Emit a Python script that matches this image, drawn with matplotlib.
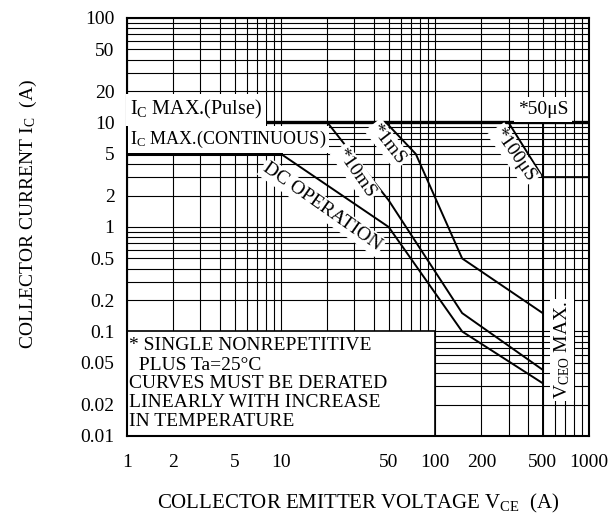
import numpy as np
import matplotlib
matplotlib.use('Agg')
import matplotlib.pyplot as plt
from matplotlib.patches import Rectangle
from matplotlib.ticker import LogLocator, NullFormatter

plt.rcParams['font.family'] = ['Liberation Serif', 'DejaVu Serif']
plt.rcParams['mathtext.default'] = 'regular'

# safe operating area curves (V, A)
dc_v = [10, 50, 150, 500]
dc_i = [5, 1, 0.1, 0.032]
ms10_v = [20, 50, 150, 500]
ms10_i = [10, 1.8, 0.15, 0.043]
ms1_v = [48, 75, 150, 500]
ms1_i = [10, 5, 0.5, 0.15]
us100_v = [300, 500, 1000]
us100_i = [10, 3, 3]
ic_pulse = 10
ic_cont = 5
vceo_max = 500

x_ticks = [1, 2, 5, 10, 50, 100, 200, 500, 1000]
x_labels = ['1', '2', '5', '10', '50', '100', '200', '500', '1000']
y_ticks = [0.01, 0.02, 0.05, 0.1, 0.2, 0.5, 1, 2, 5, 10, 20, 50, 100]
y_labels = ['0.01', '0.02', '0.05', '0.1', '0.2', '0.5', '1', '2', '5', '10', '20', '50', '100']

fig = plt.figure(figsize=(6.13, 5.17), dpi=100)
ax = fig.add_axes([0.2072, 0.1567, 0.7537, 0.8085])
ax.set_xscale('log')
ax.set_yscale('log')
ax.set_xlim(1, 1000)
ax.set_ylim(0.01, 100)

ax.set_xticks(x_ticks)
ax.set_xticklabels(x_labels)
ax.set_yticks(y_ticks)
ax.set_yticklabels(y_labels)
ax.xaxis.set_minor_locator(LogLocator(base=10, subs=np.arange(2, 10)))
ax.yaxis.set_minor_locator(LogLocator(base=10, subs=np.arange(2, 10)))
ax.xaxis.set_minor_formatter(NullFormatter())
ax.yaxis.set_minor_formatter(NullFormatter())
ax.tick_params(which='both', length=0, labelsize=14)
ax.tick_params(axis='x', pad=13)
ax.tick_params(axis='y', pad=9)
ax.grid(which='both', color='black', lw=0.8)
ax.set_axisbelow(True)
for s in ax.spines.values():
    s.set_linewidth(1.5)

# curves
ax.plot([1, 1000], [ic_pulse, ic_pulse], color='black', lw=2.4, zorder=3)
ax.plot([1, 10], [ic_cont, ic_cont], color='black', lw=2.2, zorder=3)
ax.plot(dc_v, dc_i, color='black', lw=1.4, zorder=3)
ax.plot(ms10_v, ms10_i, color='black', lw=1.4, zorder=3)
ax.plot(ms1_v, ms1_i, color='black', lw=1.4, zorder=3)
ax.plot(us100_v, us100_i, color='black', lw=1.4, zorder=3)
ax.plot([vceo_max, vceo_max], [0.01, ic_pulse], color='black', lw=1.4, zorder=3)

# notes box
ax.add_patch(Rectangle((1, 0.01), 99, 0.09, facecolor='white', edgecolor='black',
                       lw=1.2, zorder=2))
notes = ['* SINGLE NONREPETITIVE', '  PLUS Ta=25\u00b0C', 'CURVES MUST BE DERATED',
         'LINEARLY WITH INCREASE', 'IN TEMPERATURE']
ny = [0.073, 0.047, 0.0315, 0.021, 0.0138]
for t, yy in zip(notes, ny):
    ax.text(1.03, yy, t, fontsize=14, va='center', ha='left', zorder=4)

wb = dict(facecolor='white', edgecolor='none', pad=1.5)
ax.text(1.05, 13.2, r'I$_C$ MAX.(Pulse)', fontsize=14.5, va='center', ha='left',
        bbox=dict(facecolor='white', edgecolor='none', pad=3), zorder=4)
ax.text(1.05, 6.9, r'I$_C$ MAX.(CONTINUOUS)', fontsize=13, va='center', ha='left',
        bbox=dict(facecolor='white', edgecolor='none', pad=2), zorder=4)
ax.text(503, 13.2, '*50\u03bcS', fontsize=14, va='center', ha='center',
        bbox=dict(facecolor='white', edgecolor='none', pad=3), zorder=4)
ax.text(18.5, 1.55, 'DC OPERATION', fontsize=14, rotation=-35, va='center', ha='center',
        bbox=wb, zorder=4)
ax.text(30.5, 3.3, '*10mS', fontsize=14, rotation=-55, va='center', ha='center',
        bbox=wb, zorder=4)
ax.text(49.5, 6.2, '*1mS', fontsize=14, rotation=-52, va='center', ha='center',
        bbox=wb, zorder=4)
ax.text(326, 4.9, '*100\u03bcS', fontsize=14, rotation=-55, va='center', ha='center',
        bbox=wb, zorder=4)
ax.text(668, 0.066, r'V$_{CEO}$ MAX.', fontsize=14, rotation=90, va='center', ha='center',
        bbox=wb, zorder=4)

ax.set_ylabel(r'COLLECTOR CURRENT I$_C$  (A)', fontsize=14)
ax.yaxis.set_label_coords(-0.19, 0.53)
ax.set_xlabel(r'COLLECTOR EMITTER VOLTAGE V$_{CE}$  (A)', fontsize=15)
ax.xaxis.set_label_coords(0.5, -0.135)

fig.savefig('out.png', dpi=100)
